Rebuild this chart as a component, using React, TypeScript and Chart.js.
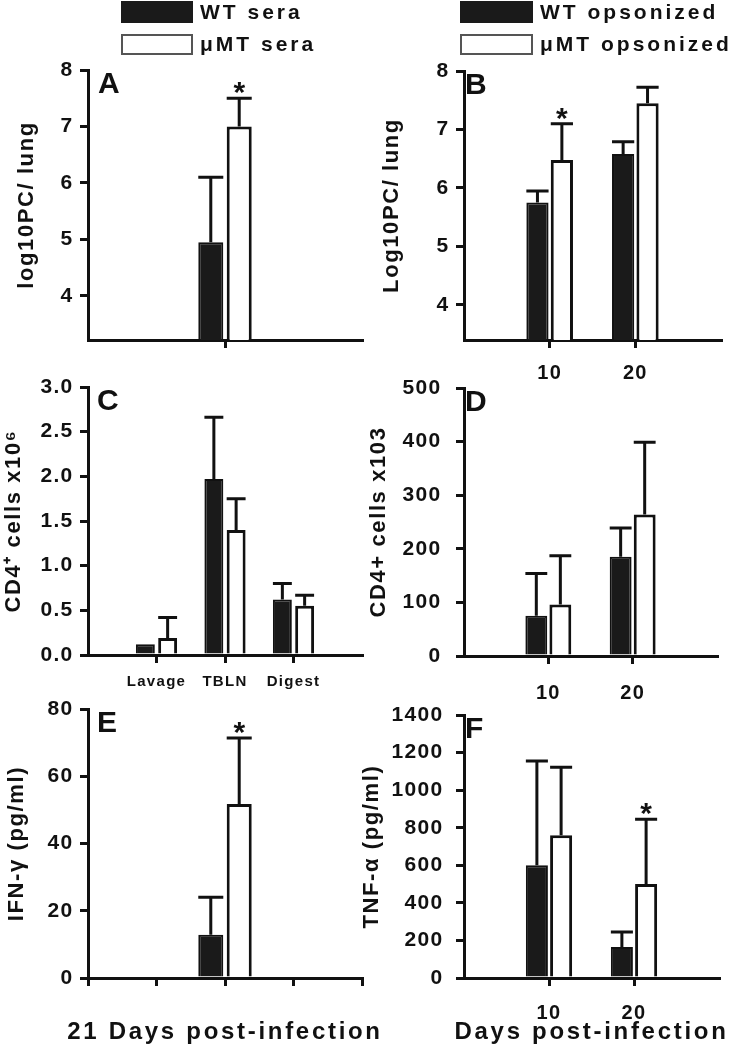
import React, { useEffect, useRef } from "react";
import { Chart, registerables } from "chart.js";

Chart.register(...registerables);

const FONT = '"Liberation Sans", Arial, Helvetica, sans-serif';
const INK = "#111111";
const BAR_DARK = "#1a1a1a";

// ---------------- data ----------------
const SERIES_SERA = ["WT sera", "\u03bcMT sera"];
const SERIES_OPS = ["WT opsonized", "\u03bcMT opsonized"];

// Panel A: log10 PC / lung, 21 days
const A_CATS = ["21"];
const A_WT = [4.95];
const A_WT_ERR = [1.15];
const A_WT_SIG = [false];
const A_MT = [7.0];
const A_MT_ERR = [0.5];
const A_MT_SIG = [true];
const A_Y_TICKS = [4, 5, 6, 7, 8];

// Panel B: Log10 PC / lung, days 10 & 20
const B_CATS = ["10", "20"];
const B_WT = [5.75, 6.58];
const B_WT_ERR = [0.2, 0.21];
const B_WT_SIG = [false, false];
const B_MT = [6.48, 7.45];
const B_MT_ERR = [0.62, 0.27];
const B_MT_SIG = [true, false];
const B_Y_TICKS = [4, 5, 6, 7, 8];

// Panel C: CD4+ cells x10^6
const C_CATS = ["Lavage", "TBLN", "Digest"];
const C_WT = [0.12, 1.97, 0.62];
const C_WT_ERR = [0, 0.69, 0.18];
const C_WT_SIG = [false, false, false];
const C_MT = [0.19, 1.4, 0.55];
const C_MT_ERR = [0.23, 0.35, 0.12];
const C_MT_SIG = [false, false, false];
const C_Y_TICKS = [0, 0.5, 1.0, 1.5, 2.0, 2.5, 3.0];

// Panel D: CD4+ cells x10^3
const D_CATS = ["10", "20"];
const D_WT = [75, 185];
const D_WT_ERR = [79, 54];
const D_WT_SIG = [false, false];
const D_MT = [96, 264];
const D_MT_ERR = [91, 135];
const D_MT_SIG = [false, false];
const D_Y_TICKS = [0, 100, 200, 300, 400, 500];

// Panel E: IFN-gamma pg/ml
const E_CATS = ["21"];
const E_WT = [12.9];
const E_WT_ERR = [11.1];
const E_WT_SIG = [false];
const E_MT = [51.8];
const E_MT_ERR = [19.6];
const E_MT_SIG = [true];
const E_Y_TICKS = [0, 20, 40, 60, 80];

// Panel F: TNF-alpha pg/ml
const F_CATS = ["10", "20"];
const F_WT = [600, 165];
const F_WT_ERR = [555, 80];
const F_WT_SIG = [false, false];
const F_MT = [760, 500];
const F_MT_ERR = [362, 346];
const F_MT_SIG = [false, true];
const F_Y_TICKS = [0, 200, 400, 600, 800, 1000, 1200, 1400];

// ---------------- helpers ----------------
function slotLabels(cats: string[], before: number, total: number): string[] {
  const out: string[] = new Array(total).fill("");
  cats.forEach((c, i) => (out[before + i] = c));
  return out;
}
function slotValues<T>(vals: T[], before: number, total: number, fill: any): T[] {
  const out: T[] = new Array(total).fill(fill);
  vals.forEach((v, i) => (out[before + i] = v));
  return out;
}

function setSpacing(ctx: any, sp: string) {
  try {
    ctx.letterSpacing = sp;
  } catch (e) {}
}

// wraps each scale's label / title drawing so that the text gets the
// letter spacing of the original figure (and x titles are not squeezed)
const spacingPlugin = {
  id: "textSpacing",
  beforeDraw(chart: any, _args: any, opts: any) {
    const ctx = chart.ctx;
    Object.values(chart.scales).forEach((sc: any) => {
      if (sc.__spaced) return;
      sc.__spaced = true;
      const wrap = (name: string, sp: string, noMaxWidth: boolean) => {
        const orig = sc[name];
        sc[name] = function (...args: any[]) {
          ctx.save();
          setSpacing(ctx, sp);
          if (noMaxWidth) {
            const proto = Object.getPrototypeOf(ctx);
            ctx.fillText = function (t: string, x: number, y: number) {
              return proto.fillText.call(this, t, x, y);
            };
          }
          const r = orig.apply(this, args);
          if (noMaxWidth) delete ctx.fillText;
          ctx.restore();
          return r;
        };
      };
      wrap("drawLabels", opts.tick, false);
      if (sc.isHorizontal()) wrap("drawTitle", opts.xTitle, true);
      else wrap("drawTitle", opts.yTitle, false);
    });
  },
};

const errorBarPlugin = {
  id: "errorBars",
  afterDatasetsDraw(chart: any, _args: any, opts: any) {
    const ctx = chart.ctx;
    const y = chart.scales.y;
    chart.data.datasets.forEach((ds: any, di: number) => {
      const meta = chart.getDatasetMeta(di);
      ds.data.forEach((v: any, i: number) => {
        if (v === null || v === undefined) return;
        const el: any = meta.data[i];
        const err = (opts.errors[di] && opts.errors[di][i]) || 0;
        const sig = opts.sig[di] && opts.sig[di][i];
        const top = y.getPixelForValue(v + err);
        ctx.save();
        ctx.strokeStyle = INK;
        ctx.lineWidth = 3;
        if (err > 0) {
          const half = el.width / 2;
          ctx.beginPath();
          ctx.moveTo(el.x, el.y);
          ctx.lineTo(el.x, top);
          ctx.moveTo(el.x - half, top);
          ctx.lineTo(el.x + half, top);
          ctx.stroke();
        }
        if (sig) {
          setSpacing(ctx, "0px");
          ctx.fillStyle = INK;
          ctx.font = `bold 30px ${FONT}`;
          ctx.textAlign = "center";
          ctx.textBaseline = "alphabetic";
          ctx.fillText("*", el.x, top + 4);
        }
        ctx.restore();
      });
    });
  },
};

const decoPlugin = {
  id: "panelDeco",
  afterDraw(chart: any, _args: any, opts: any) {
    const { ctx, chartArea } = chart;
    ctx.save();
    setSpacing(ctx, "0px");
    ctx.fillStyle = INK;
    ctx.font = `bold 30px ${FONT}`;
    ctx.textAlign = "left";
    ctx.textBaseline = "alphabetic";
    ctx.fillText(opts.letter, chartArea.left + opts.letterDx, chartArea.top + 23);
    const lg = opts.legend;
    if (lg) {
      chart.data.datasets.forEach((ds: any, i: number) => {
        const bx = lg.x;
        const by = lg.y + i * lg.gap;
        const h = i === 0 ? lg.h : lg.h - 1;
        ctx.fillStyle = i === 0 ? BAR_DARK : "#ffffff";
        ctx.fillRect(bx, by, lg.w, h);
        if (i > 0) {
          ctx.strokeStyle = "#555555";
          ctx.lineWidth = 2;
          ctx.strokeRect(bx + 1, by + 1, lg.w - 2, h - 2);
        }
        setSpacing(ctx, "3px");
        ctx.fillStyle = INK;
        ctx.font = `bold 21px ${FONT}`;
        ctx.textBaseline = "middle";
        ctx.fillText(ds.label, bx + lg.w + 7, by + h / 2 + 1);
      });
    }
    ctx.restore();
  },
};

interface PanelSpec {
  letter: string;
  left: number;
  top: number;
  width: number;
  height: number;
  padTop: number;
  padRight: number;
  yAxisWidth: number;
  xAxisHeight: number;
  cats: string[];
  slotBefore: number;
  slotTotal: number;
  tickSlots: number[];
  series: string[];
  wt: number[];
  wtErr: number[];
  wtSig: boolean[];
  mt: number[];
  mtErr: number[];
  mtSig: boolean[];
  yMin: number;
  yMax: number;
  yTicks: number[];
  yDecimals: number;
  yTitle: string;
  yTitlePad: number;
  yTickPad: number;
  showXTicks: boolean;
  xTickSize: number;
  xTickPad: number;
  xTitle?: string;
  catPct: number;
  barPct: number;
  letterDx: number;
  legend?: { x: number; y: number; w: number; h: number; gap: number };
}

function buildConfig(s: PanelSpec): any {
  const labels = slotLabels(s.cats, s.slotBefore, s.slotTotal);
  const wtData = slotValues(s.wt as any[], s.slotBefore, s.slotTotal, null);
  const mtData = slotValues(s.mt as any[], s.slotBefore, s.slotTotal, null);
  const wtErr = slotValues(s.wtErr, s.slotBefore, s.slotTotal, 0);
  const mtErr = slotValues(s.mtErr, s.slotBefore, s.slotTotal, 0);
  const wtSig = slotValues(s.wtSig, s.slotBefore, s.slotTotal, false);
  const mtSig = slotValues(s.mtSig, s.slotBefore, s.slotTotal, false);
  return {
    type: "bar",
    data: {
      labels,
      datasets: [
        {
          label: s.series[0],
          data: wtData,
          backgroundColor: BAR_DARK,
          borderColor: INK,
          borderWidth: 2,
          base: s.yMin,
          categoryPercentage: s.catPct,
          barPercentage: s.barPct,
        },
        {
          label: s.series[1],
          data: mtData,
          backgroundColor: "#ffffff",
          borderColor: INK,
          borderWidth: 3,
          base: s.yMin,
          categoryPercentage: s.catPct,
          barPercentage: s.barPct,
        },
      ],
    },
    options: {
      responsive: false,
      maintainAspectRatio: false,
      animation: false,
      devicePixelRatio: 1,
      layout: { padding: { top: s.padTop, right: s.padRight, left: 0, bottom: 0 } },
      plugins: {
        legend: { display: false },
        tooltip: { enabled: false },
        textSpacing: { tick: "1.3px", yTitle: "1.6px", xTitle: "2.7px" },
        errorBars: { errors: [wtErr, mtErr], sig: [wtSig, mtSig] },
        panelDeco: { letter: s.letter, letterDx: s.letterDx, legend: s.legend },
      },
      scales: {
        x: {
          type: "category",
          offset: false,
          grid: {
            display: true,
            offset: false,
            drawOnChartArea: false,
            drawTicks: true,
            tickLength: 8,
            lineWidth: 3,
            color: (c: any) => (s.tickSlots.includes(c.index) ? INK : "rgba(0,0,0,0)"),
          },
          border: { display: true, color: INK, width: 3 },
          ticks: {
            display: s.showXTicks,
            autoSkip: false,
            maxRotation: 0,
            minRotation: 0,
            color: INK,
            padding: s.xTickPad,
            font: { family: FONT, size: s.xTickSize, weight: "bold" },
          },
          title: s.xTitle
            ? {
                display: true,
                text: s.xTitle,
                color: INK,
                font: { family: FONT, size: 24, weight: "bold", lineHeight: 1.2 },
                padding: { top: 0, bottom: 3.6 },
              }
            : { display: false },
          afterFit: (scale: any) => {
            scale.height = s.xAxisHeight;
          },
        },
        y: {
          type: "linear",
          min: s.yMin,
          max: s.yMax,
          afterBuildTicks: (scale: any) => {
            scale.ticks = s.yTicks.map((v) => ({ value: v }));
          },
          grid: {
            display: true,
            drawOnChartArea: false,
            drawTicks: true,
            tickLength: 8,
            lineWidth: 3,
            color: INK,
          },
          border: { display: true, color: INK, width: 3 },
          ticks: {
            color: INK,
            padding: s.yTickPad,
            font: { family: FONT, size: 21, weight: "bold" },
            callback: (v: any) => Number(v).toFixed(s.yDecimals),
          },
          title: {
            display: true,
            text: s.yTitle,
            color: INK,
            font: { family: FONT, size: 22, weight: "bold", lineHeight: 1 },
            padding: { top: s.yTitlePad, bottom: 0 },
          },
          afterFit: (scale: any) => {
            scale.width = s.yAxisWidth;
          },
        },
      },
    },
    plugins: [spacingPlugin, errorBarPlugin, decoPlugin],
  };
}

// left column canvases are wider than the column so that the centred
// bottom title can run past the axis end, as in the original
const LEFT_COL = { left: 0, width: 400, yAxisWidth: 88, padRight: 38 };
const RIGHT_COL = { left: 355, width: 379, yAxisWidth: 109, padRight: 4 };

const PANELS: PanelSpec[] = [
  {
    letter: "A",
    left: LEFT_COL.left, width: LEFT_COL.width, top: 0, height: 365,
    padTop: 70, padRight: LEFT_COL.padRight, yAxisWidth: LEFT_COL.yAxisWidth, xAxisHeight: 25,
    cats: A_CATS, slotBefore: 2, slotTotal: 5, tickSlots: [2],
    series: SERIES_SERA,
    wt: A_WT, wtErr: A_WT_ERR, wtSig: A_WT_SIG, mt: A_MT, mtErr: A_MT_ERR, mtSig: A_MT_SIG,
    yMin: 3.22, yMax: 8, yTicks: A_Y_TICKS, yDecimals: 0,
    yTitle: "log10PC/ lung", yTitlePad: 16, yTickPad: 6.5,
    showXTicks: false, xTickSize: 20, xTickPad: 0,
    catPct: 0.83, barPct: 0.88, letterDx: 10,
    legend: { x: 121, y: 1, w: 72, h: 22, gap: 33 },
  },
  {
    letter: "B",
    left: RIGHT_COL.left, width: RIGHT_COL.width, top: 0, height: 395,
    padTop: 71, padRight: RIGHT_COL.padRight, yAxisWidth: RIGHT_COL.yAxisWidth, xAxisHeight: 55,
    cats: B_CATS, slotBefore: 1, slotTotal: 4, tickSlots: [1, 2],
    series: SERIES_OPS,
    wt: B_WT, wtErr: B_WT_ERR, wtSig: B_WT_SIG, mt: B_MT, mtErr: B_MT_ERR, mtSig: B_MT_SIG,
    yMin: 3.4, yMax: 8, yTicks: B_Y_TICKS, yDecimals: 0,
    yTitle: "Log10PC/ lung", yTitlePad: 26, yTickPad: 6.5,
    showXTicks: true, xTickSize: 20, xTickPad: 13,
    catPct: 0.57, barPct: 0.91, letterDx: 1,
    legend: { x: 105, y: 1, w: 73, h: 22, gap: 33 },
  },
  {
    letter: "C",
    left: LEFT_COL.left, width: LEFT_COL.width, top: 360, height: 340,
    padTop: 27, padRight: LEFT_COL.padRight, yAxisWidth: LEFT_COL.yAxisWidth, xAxisHeight: 45,
    cats: C_CATS, slotBefore: 1, slotTotal: 5, tickSlots: [1, 2, 3],
    series: SERIES_SERA,
    wt: C_WT, wtErr: C_WT_ERR, wtSig: C_WT_SIG, mt: C_MT, mtErr: C_MT_ERR, mtSig: C_MT_SIG,
    yMin: 0, yMax: 3, yTicks: C_Y_TICKS, yDecimals: 1,
    yTitle: "CD4\u207a cells x10\u2076", yTitlePad: 3, yTickPad: 6.5,
    showXTicks: true, xTickSize: 15, xTickPad: 10,
    catPct: 0.65, barPct: 0.85, letterDx: 9,
  },
  {
    letter: "D",
    left: RIGHT_COL.left, width: RIGHT_COL.width, top: 360, height: 350,
    padTop: 28, padRight: RIGHT_COL.padRight, yAxisWidth: RIGHT_COL.yAxisWidth, xAxisHeight: 54,
    cats: D_CATS, slotBefore: 1, slotTotal: 4, tickSlots: [1, 2],
    series: SERIES_OPS,
    wt: D_WT, wtErr: D_WT_ERR, wtSig: D_WT_SIG, mt: D_MT, mtErr: D_MT_ERR, mtSig: D_MT_SIG,
    yMin: 0, yMax: 500, yTicks: D_Y_TICKS, yDecimals: 0,
    yTitle: "CD4+ cells x103", yTitlePad: 12.5, yTickPad: 14.5,
    showXTicks: true, xTickSize: 20, xTickPad: 17,
    catPct: 0.57, barPct: 0.91, letterDx: 1,
  },
  {
    letter: "E",
    left: LEFT_COL.left, width: LEFT_COL.width, top: 690, height: 360,
    padTop: 19, padRight: LEFT_COL.padRight, yAxisWidth: LEFT_COL.yAxisWidth, xAxisHeight: 72,
    cats: E_CATS, slotBefore: 2, slotTotal: 5, tickSlots: [0, 1, 2, 3, 4],
    series: SERIES_SERA,
    wt: E_WT, wtErr: E_WT_ERR, wtSig: E_WT_SIG, mt: E_MT, mtErr: E_MT_ERR, mtSig: E_MT_SIG,
    yMin: 0, yMax: 80, yTicks: E_Y_TICKS, yDecimals: 0,
    yTitle: "IFN-\u03b3 (pg/ml)", yTitlePad: 5.5, yTickPad: 6.5,
    showXTicks: false, xTickSize: 20, xTickPad: 0,
    xTitle: "21 Days post-infection",
    catPct: 0.83, barPct: 0.88, letterDx: 9,
  },
  {
    letter: "F",
    left: RIGHT_COL.left, width: RIGHT_COL.width, top: 690, height: 360,
    padTop: 22, padRight: RIGHT_COL.padRight, yAxisWidth: RIGHT_COL.yAxisWidth, xAxisHeight: 72,
    cats: F_CATS, slotBefore: 1, slotTotal: 4, tickSlots: [1, 2],
    series: SERIES_OPS,
    wt: F_WT, wtErr: F_WT_ERR, wtSig: F_WT_SIG, mt: F_MT, mtErr: F_MT_ERR, mtSig: F_MT_SIG,
    yMin: 0, yMax: 1400, yTicks: F_Y_TICKS, yDecimals: 0,
    yTitle: "TNF-\u03b1 (pg/ml)", yTitlePad: 6, yTickPad: 12.5,
    showXTicks: true, xTickSize: 20, xTickPad: 15,
    xTitle: "Days post-infection",
    catPct: 0.57, barPct: 0.91, letterDx: 1,
  },
];

function Panel({ spec }: { spec: PanelSpec }) {
  const ref = useRef<HTMLCanvasElement | null>(null);
  useEffect(() => {
    if (!ref.current) return;
    const chart = new Chart(ref.current, buildConfig(spec));
    return () => chart.destroy();
  }, [spec]);
  return (
    <canvas
      ref={ref}
      width={spec.width}
      height={spec.height}
      style={{
        position: "absolute",
        left: spec.left,
        top: spec.top,
        width: spec.width,
        height: spec.height,
      }}
    />
  );
}

export default function App() {
  return (
    <div
      style={{
        position: "absolute",
        left: 0,
        top: 0,
        width: 734,
        height: 1050,
        overflow: "hidden",
        background: "#ffffff",
      }}
    >
      {PANELS.map((p) => (
        <Panel key={p.letter} spec={p} />
      ))}
    </div>
  );
}
